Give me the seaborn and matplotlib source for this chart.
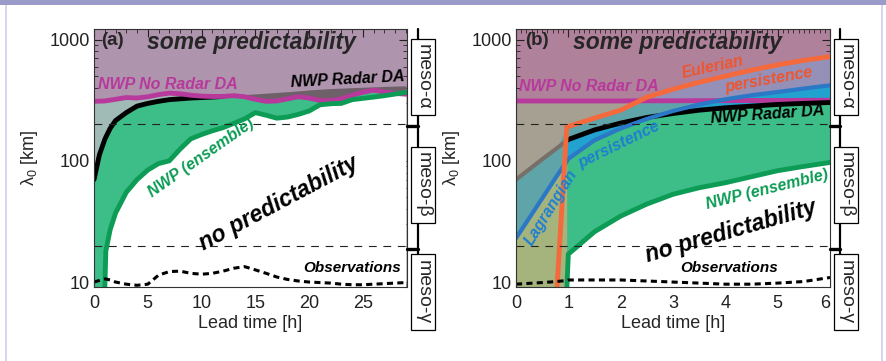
import numpy as np
import matplotlib
matplotlib.use("Agg")
import matplotlib.pyplot as plt
import seaborn as sns
from matplotlib.patches import Rectangle
from matplotlib.lines import Line2D
from matplotlib.ticker import LogLocator, NullFormatter

# ------------------------------------------
# Data
# ------------------------------------------
# panel (a): lead time in hours, scales in km
t_a = [0, 0.5, 1, 1.1, 1.5, 2, 3, 4, 5, 6, 7, 8, 9, 10, 11, 12, 13, 14, 15, 16,
       17, 18, 19, 20, 21, 22, 23, 24, 25, 26, 27, 28, 29]
no_radar_a = [310, 311, 312, 313, 317, 322, 333, 330, 338, 352, 362, 358, 348, 342, 340, 340,
              345, 338, 322, 310, 312, 325, 338, 330, 315, 314, 325, 348, 368, 383, 370, 360, 355]
radar_a = [70, 112, 150, 157, 185, 215, 250, 283, 298, 310, 320, 325, 330, 333, 336, 340,
           347, 352, 357, 362, 367, 372, 378, 385, 390, 395, 398, 402, 405, 408, 411, 414, 416]
ens_low_a = [8.5, 8.5, 8.5, 18, 27, 37, 55, 70, 84, 95, 100, 125, 152, 165, 177, 188,
             204, 222, 250, 238, 225, 230, 242, 258, 290, 296, 298, 320, 328, 336, 345, 356, 367]
obs_a = [10.0, 10.3, 10.6, 10.6, 10.4, 10.0, 9.6, 9.4, 9.6, 11.4, 12.2, 12.3, 11.8, 11.6, 11.8,
         12.3, 13.0, 13.4, 12.6, 11.8, 11.0, 10.5, 10.2, 10.0, 9.9, 9.8, 9.6, 9.5, 9.5, 9.6,
         9.7, 9.8, 9.9]

# panel (b)
t_b = [0, 0.5, 0.78, 0.97, 1.0, 1.5, 2, 2.5, 3, 3.5, 4, 4.5, 5, 5.5, 6]
no_radar_b = [312, 312, 312, 312, 312, 312, 312, 313, 313, 314, 314, 315, 315, 316, 316]
radar_b = [70, 103, 127, 147, 150, 180, 205, 228, 246, 262, 274, 283, 292, 298, 303]
lagr_b = [23, 49, 75, 99, 104, 148, 185, 222, 258, 292, 322, 348, 370, 395, 420]
euler_b = [np.nan, np.nan, 8.5, 190, 192, 225, 262, 335, 390, 445, 500, 560, 620, 675, 724]
ens_low_b = [8.5, 8.5, 8.5, 8.5, 17, 26, 35, 44, 53, 60, 66, 74, 83, 90, 97]
obs_b = [9.6, 9.9, 10.1, 10.3, 10.4, 10.4, 10.4, 10.2, 10.0, 9.8, 9.6, 9.6, 9.8, 10.1, 10.9]

meso_labels = ["meso-α", "meso-β", "meso-γ"]

# ------------------------------------------
# Style
# ------------------------------------------
sns.set_style("ticks")
plt.rcParams['font.family'] = ['Liberation Sans', 'DejaVu Sans']
plt.rcParams['mathtext.fontset'] = 'custom'
plt.rcParams['mathtext.rm'] = 'Liberation Sans'
plt.rcParams['mathtext.it'] = 'Liberation Sans:italic'

YLO, YHI = 9.1, 1225
W, H = 886, 361

magenta = "#b8399c"
green_fill = "#3dbd88"
green_line = "#0c9c55"
orange = "#f46a3c"
blue = "#2a78c6"

fig = plt.figure(figsize=(W / 100, H / 100), dpi=100)
fig.patch.set_facecolor("white")

axa = fig.add_axes([94 / W, 1 - 287 / H, 313 / W, 258 / H])
axb = fig.add_axes([516 / W, 1 - 287 / H, 314 / W, 258 / H])


def setup(ax, xmax, xmajor, xminor):
    ax.set_yscale('log')
    ax.set_ylim(YLO, YHI)
    ax.set_xlim(0, xmax)
    ax.set_xticks(xmajor)
    ax.set_xticklabels([str(v) for v in xmajor])
    ax.set_xticks(xminor, minor=True)
    ax.set_yticks([10, 100, 1000])
    ax.set_yticklabels(['10', '100', '1000'])
    ax.yaxis.set_minor_locator(LogLocator(subs=range(2, 10)))
    ax.yaxis.set_minor_formatter(NullFormatter())
    ax.tick_params(which='both', direction='in', top=True, right=True,
                   labelsize=13, colors='#222222')
    ax.tick_params(which='major', length=6, width=0.8)
    ax.tick_params(which='minor', length=3, width=0.6)
    ax.tick_params(axis='x', pad=6)
    ax.tick_params(axis='y', pad=3)
    ax.set_xlabel('Lead time [h]', fontsize=13, labelpad=2)
    ax.set_ylabel('λ$_0$ [km]', fontsize=13, labelpad=7)
    for s in ax.spines.values():
        s.set_linewidth(0.8)
        s.set_color('#333333')
        s.set_zorder(6)
    for lev in (200, 20):
        ax.axhline(lev, color='#222222', lw=0.8, linestyle=(0, (7, 6)), zorder=4)


bi = dict(fontweight='bold', fontstyle='italic', ha='center', va='center', zorder=8)

# ------------------------------------------
# Panel (a)
# ------------------------------------------
ta = np.array(t_a)
nra = np.array(no_radar_a)
rda = np.array(radar_a)
ela = np.array(ens_low_a)

axa.set_facecolor("#ae94ac")
axa.fill_between(ta, rda, nra, where=nra >= rda, interpolate=True, color="#a0bbb5", lw=0)
axa.fill_between(ta, nra, rda, where=rda >= nra, interpolate=True, color="#6d6069", lw=0)
axa.fill_between(ta, ela, np.minimum(nra, rda), color=green_fill, lw=0)
m = ta >= 1
axa.fill_between(ta[m], 8, ela[m], color="white", lw=0)

sns.lineplot(x=ta, y=nra, color=magenta, lw=3.5, ax=axa, zorder=3)
mr = ta <= 12
sns.lineplot(x=ta[mr], y=rda[mr], color="black", lw=3.5, ax=axa, zorder=2.8)
sns.lineplot(x=ta[m], y=ela[m], color=green_line, lw=3.5, ax=axa, zorder=3)
axa.plot(ta, obs_a, color="black", lw=2.2, linestyle=(0, (2, 1.4)), zorder=5)

setup(axa, 29.1, [0, 5, 10, 15, 20, 25], np.arange(0, 30, 1))

axa.text(0.7, 986, "(a)", fontsize=13.5, fontweight='bold', ha='left', va='center', zorder=8)
axa.text(14.6, 940, "some predictability", fontsize=16.5, **bi)
axa.text(6.83, 425, "NWP No Radar DA", fontsize=11.5, color=magenta, **bi)
axa.text(23.6, 470, "NWP Radar DA", fontsize=11.5, color="black", rotation=3, **bi)
axa.text(10.0, 106, "NWP (ensemble)", fontsize=11.5, color=green_line, rotation=35, **bi)
axa.text(17.2, 45, "no predictability", fontsize=16.5, color="black", rotation=28, **bi)
axa.text(24.0, 13.1, "Observations", fontsize=11, color="black", **bi)

# ------------------------------------------
# Panel (b)
# ------------------------------------------
tb = np.array(t_b)
nrb = np.array(no_radar_b)
rdb = np.array(radar_b)
lgb = np.array(lagr_b)
eub = np.array(euler_b)
elb = np.array(ens_low_b)

late = tb >= 0.97
early = tb <= 0.97

axb.set_facecolor("#b0819a")
axb.fill_between(tb, 8, nrb, color="#a5a091", lw=0)
axb.fill_between(tb[late], lgb[late], eub[late], where=eub[late] > lgb[late],
                 interpolate=True, color="#9490b8", lw=0)
teal_top = np.minimum(np.where(tb < 0.9, rdb, eub), nrb)
axb.fill_between(tb, lgb, teal_top, where=teal_top > lgb, interpolate=True,
                 color="#5fa4a8", lw=0)
axb.fill_between(tb[late], np.minimum(lgb, rdb)[late], np.maximum(lgb, rdb)[late],
                 color="#22a2cf", lw=0)
axb.fill_between(tb[early], 8, lgb[early], color="#a5b47d", lw=0)
axb.fill_between(tb[late], elb[late], np.minimum(rdb, lgb)[late], color=green_fill, lw=0)
axb.fill_between(tb[late], 8, elb[late], color="white", lw=0)

sns.lineplot(x=tb, y=nrb, color=magenta, lw=3.5, ax=axb, zorder=3)
ge = tb <= 1.0
sns.lineplot(x=tb[ge], y=rdb[ge], color="#776f69", lw=3, ax=axb, zorder=3)
sns.lineplot(x=tb[late], y=rdb[late], color="black", lw=3.5, ax=axb, zorder=3)
sns.lineplot(x=tb, y=lgb, color=blue, lw=3, ax=axb, zorder=3)
sns.lineplot(x=tb[late], y=elb[late], color=green_line, lw=3.5, ax=axb, zorder=3)
me = tb >= 0.78
sns.lineplot(x=tb[me], y=eub[me], color=orange, lw=3.5, ax=axb, zorder=4)
axb.plot(tb, obs_b, color="black", lw=2.2, linestyle=(0, (2, 1.4)), zorder=5)

setup(axb, 6.0, [0, 1, 2, 3, 4, 5, 6], np.arange(0, 6.01, 0.1))
axb.get_xticklabels()[-1].set_ha('right')

axb.text(0.18, 986, "(b)", fontsize=13.5, fontweight='bold', ha='left', va='center', zorder=8)
axb.text(3.08, 940, "some predictability", fontsize=16.5, **bi)
axb.text(1.40, 410, "NWP No Radar DA", fontsize=11.5, color=magenta, **bi)
axb.text(3.75, 590, "Eulerian", fontsize=11.5, color="#f0552d", rotation=12, **bi)
axb.text(4.83, 470, "persistence", fontsize=11.5, color="#f0552d", rotation=10, **bi)
axb.text(4.81, 241, "NWP Radar DA", fontsize=11.5, color="black", rotation=4, **bi)
axb.text(0.67, 41, "Lagrangian", fontsize=11.5, color="#1f7fd0", rotation=58, **bi)
axb.text(1.96, 135, "persistence", fontsize=11.5, color="#1f7fd0", rotation=26, **bi)
axb.text(4.79, 58, "NWP (ensemble)", fontsize=11.5, color=green_line, rotation=14, **bi)
axb.text(4.10, 26, "no predictability", fontsize=16.5, color="black", rotation=16, **bi)
axb.text(4.07, 13, "Observations", fontsize=11, color="black", **bi)

# ------------------------------------------
# Scale boxes to the right of each panel
# ------------------------------------------
box_y = [(39, 115), (147, 223), (254, 330)]
for ax_right, line_x, box_x in [(407, 418, 411), (830, 840, 834)]:
    fig.add_artist(Line2D([line_x / W] * 2, [1 - 29 / H, 1 - 254 / H],
                          transform=fig.transFigure, color="black", lw=1.6, zorder=3))
    for yb in (126, 249):
        fig.add_artist(Line2D([ax_right / W, line_x / W], [1 - yb / H] * 2,
                              transform=fig.transFigure, color="black", lw=2.4, zorder=3))
    for (y0, y1), lab in zip(box_y, meso_labels):
        fig.add_artist(Rectangle((box_x / W, 1 - y1 / H), 24 / W, (y1 - y0) / H,
                                 transform=fig.transFigure, facecolor="white",
                                 edgecolor="black", lw=0.9, zorder=4))
        fig.text((box_x + 12.5) / W, 1 - (y0 + y1) / 2 / H, lab, rotation=270,
                 ha='center', va='center', fontsize=14, zorder=5)

# slide frame decoration
fig.add_artist(Rectangle((0, 1 - 4.5 / H), 1, 4.5 / H, transform=fig.transFigure,
                         facecolor="#9b9bc9", lw=0, zorder=1))
fig.add_artist(Rectangle((5 / W, 0), 2 / W, 1 - 4.5 / H, transform=fig.transFigure,
                         facecolor="#d6d6ee", lw=0, zorder=1))
fig.add_artist(Rectangle((881 / W, 0), 2 / W, 1 - 4.5 / H, transform=fig.transFigure,
                         facecolor="#d6d6ee", lw=0, zorder=1))

fig.savefig("out.png", dpi=100)
